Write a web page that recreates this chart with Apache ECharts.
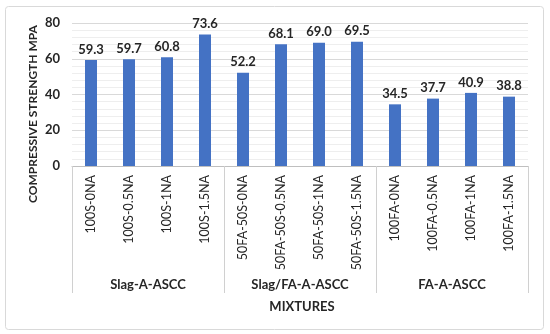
<!DOCTYPE html>
<html><head><meta charset="utf-8">
<script src="https://cdn.jsdelivr.net/npm/echarts@6/dist/echarts.min.js"></script>
<style>html,body{margin:0;padding:0;background:#fff}#c{width:550px;height:334px}</style>
</head><body><div id="c"></div>
<script>
const mixtures = ['100S-0NA','100S-0.5NA','100S-1NA','100S-1.5NA','50FA-50S-0NA','50FA-50S-0.5NA','50FA-50S-1NA','50FA-50S-1.5NA','100FA-0NA','100FA-0.5NA','100FA-1NA','100FA-1.5NA'];
const groups = ['Slag-A-ASCC','Slag/FA-A-ASCC','FA-A-ASCC'];
const strength = [59.3,59.7,60.8,73.6,52.2,68.1,69.0,69.5,34.5,37.7,40.9,38.8];
const yTicks = [0,20,40,60,80];
const FONT = 'Lato, "Open Sans", sans-serif';
const chart = echarts.init(document.getElementById('c'));
chart.setOption({
  animation:false,
  textStyle:{fontFamily:FONT},
  graphic:[
    {type:'rect',shape:{x:5.5,y:6.5,width:538,height:323,r:3},style:{fill:'none',stroke:'#d9d9d9',lineWidth:1},silent:true},
    {type:'text',x:33,y:114,rotation:Math.PI/2,style:{text:'COMPRESSIVE STRENGTH MPA',font:'bold 12px '+FONT,fill:'#262626',textAlign:'center',textVerticalAlign:'middle'}},
    {type:'text',x:302,y:307,style:{text:'MIXTURES',font:'bold 13px '+FONT,fill:'#262626',textAlign:'center',textVerticalAlign:'middle'}}
  ],
  grid:{left:72,right:22,top:23,bottom:168},
  xAxis:[
    {type:'category',data:mixtures,position:'bottom',
     axisLine:{lineStyle:{color:'#bfbfbf'}},axisTick:{show:false},
     axisLabel:{rotate:90,interval:0,margin:9,fontSize:12.5,color:'#262626',fontFamily:FONT}},
    {type:'category',data:groups,position:'bottom',
     axisLine:{show:false},
     axisTick:{show:true,length:127,lineStyle:{color:'#d0d0d0'}},
     axisLabel:{margin:112,fontSize:13,fontWeight:'bold',color:'#262626',fontFamily:FONT}}
  ],
  yAxis:{type:'value',min:0,max:80,interval:20,
    axisLabel:{fontSize:13,fontWeight:'bold',color:'#262626',margin:12,fontFamily:FONT,
      formatter:v=>yTicks.includes(v)?String(v):''},
    axisLine:{show:false},axisTick:{show:false},
    splitLine:{lineStyle:{color:'#d9d9d9'}},
    minorTick:{show:false,splitNumber:5},
    minorSplitLine:{show:true,lineStyle:{color:'#eeeeee'}}},
  series:[{type:'bar',data:strength,xAxisIndex:0,barWidth:12,
    itemStyle:{color:'#4472C4'},
    label:{show:true,position:'top',distance:4,fontSize:13,fontWeight:'bold',color:'#262626',fontFamily:FONT,
      formatter:p=>p.value.toFixed(1)}}]
});
</script></body></html>
